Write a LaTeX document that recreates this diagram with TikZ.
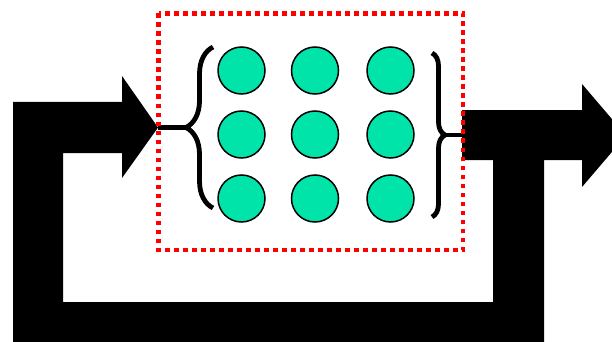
\documentclass[tikz,border=0pt]{standalone}
\usetikzlibrary{decorations.pathreplacing}
\definecolor{cellgreen}{RGB}{0,228,170}

\begin{document}
\begin{tikzpicture}
[x=1pt, y=-1pt, line join=miter,
cell/.style={circle, draw, fill=cellgreen, line width=1.5pt, inner sep=0pt, minimum size=47pt},
curly/.style={decorate, decoration={brace, amplitude=#1}, line width=4.8pt},
dots/.style={draw=red, line width=4.5pt, dash pattern=on 4.5pt off 4.5pt}]

\useasboundingbox (0,0) rectangle (612,342);
\clip (0,0) rectangle (612,342);

% output arrow, leaving the box to the right
\fill (462,110) -- (582,110) -- (582,84) -- (626,135.5) -- (582,187) -- (582,160) -- (462,160) -- cycle;

% feedback loop back into the input arrow
\fill (493,158) -- (544,158) -- (544,352) -- (13,352) -- (13,102) -- (122,102) -- (122,76)
  -- (158,127.5) -- (122,178) -- (122,153) -- (63,153) -- (63,302) -- (493,302) -- cycle;

\coordinate (intip) at (158,127.5);
\coordinate (inbrace) at (186,127.5);
\coordinate (outbrace) at (445,135);
\coordinate (outbar) at (462,135);

% braces round the cells
\draw[curly=27] (213,208) -- (213,47);
\draw[curly=13] (432,53) -- (432,217);
\draw[line width=4.5pt] (intip) -- (inbrace);
\draw[line width=4.5pt] (outbrace) -- (outbar);

\node[cell] (c11) at (241.5,70.5) {};
\node[cell] (c12) at (315,70.5) {};
\node[cell] (c13) at (390.5,70.5) {};
\node[cell] (c21) at (241.5,134.5) {};
\node[cell] (c22) at (315,134.5) {};
\node[cell] (c23) at (390.5,134.5) {};
\node[cell] (c31) at (241.5,198.5) {};
\node[cell] (c32) at (315,198.5) {};
\node[cell] (c33) at (390.5,198.5) {};

\draw[dots] (158.5,13.5) rectangle (463,250);
\end{tikzpicture}
\end{document}
